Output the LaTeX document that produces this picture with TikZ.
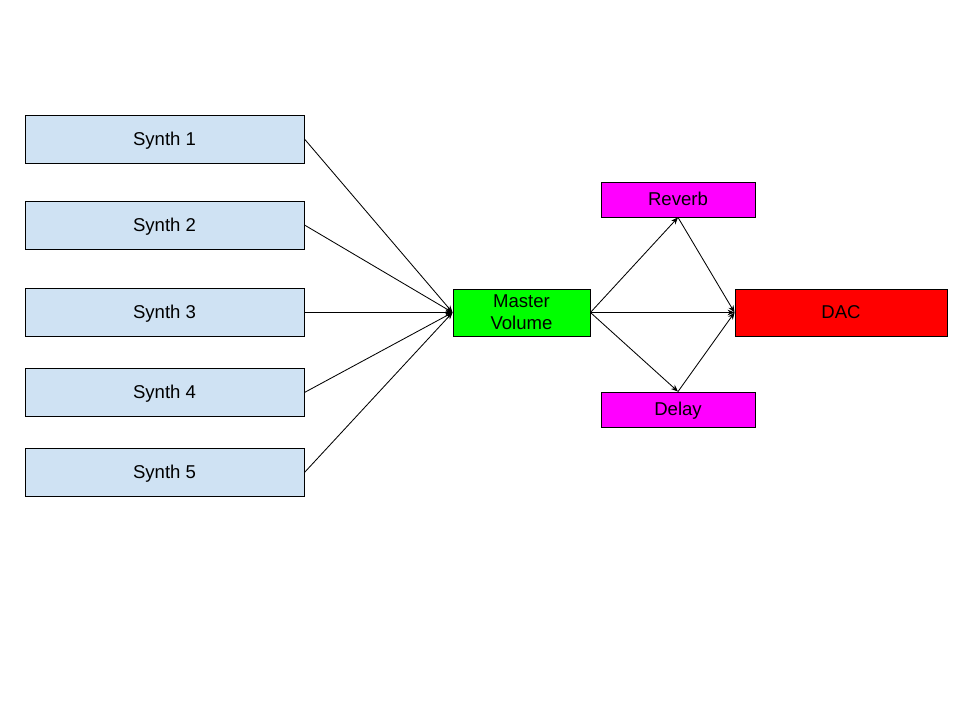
\documentclass[tikz,border=0pt]{standalone}
\usepackage{fontspec}
\setmainfont{Liberation Sans}
\usepackage{xcolor}
\usetikzlibrary{arrows.meta}
\definecolor{synthblue}{HTML}{CFE2F3}
\definecolor{fxmagenta}{HTML}{FF00FF}
\definecolor{mastergreen}{HTML}{00FF00}
\definecolor{dacred}{HTML}{FF0000}

\begin{document}
\begin{tikzpicture}[
    x=0.025cm, y=-0.025cm,
    block/.style={draw, line width=0.6pt, inner sep=0pt, align=center, font=\fontsize{13.2}{15.5}\selectfont},
    oneline/.style={text height=0.92em, text depth=0pt},
    synth/.style={block, oneline, fill=synthblue, minimum width=6.975cm, minimum height=1.2cm},
    effect/.style={block, oneline, fill=fxmagenta, minimum width=3.85cm, minimum height=0.875cm},
    arrow/.style={-{Stealth[length=5pt,width=4pt]}, line width=0.6pt}
]
\useasboundingbox (0,0) rectangle (960,720);

\node[synth] (s1) at (164.5,139) {Synth 1};
\node[synth] (s2) at (164.5,225) {Synth 2};
\node[synth] (s3) at (164.5,312.5) {Synth 3};
\node[synth] (s4) at (164.5,392.5) {Synth 4};
\node[synth] (s5) at (164.5,472.5) {Synth 5};
\node[block, fill=mastergreen, minimum width=3.425cm, minimum height=1.175cm] (master) at (521.5,312.5) {Master\\Volume};
\node[effect] (reverb) at (678,199.5) {Reverb};
\node[effect] (delay) at (678,409.5) {Delay};
\node[block, oneline, fill=dacred, minimum width=5.3cm, minimum height=1.175cm] (dac) at (841,312.5) {DAC};

\draw[arrow] (s1.east) -- (master.west);
\draw[arrow] (s2.east) -- (master.west);
\draw[arrow] (s3.east) -- (master.west);
\draw[arrow] (s4.east) -- (master.west);
\draw[arrow] (s5.east) -- (master.west);
\draw[arrow] (master.east) -- (reverb.south);
\draw[arrow] (master.east) -- (dac.west);
\draw[arrow] (master.east) -- (delay.north);
\draw[arrow] (reverb.south) -- (dac.west);
\draw[arrow] (delay.north) -- (dac.west);
\end{tikzpicture}
\end{document}
